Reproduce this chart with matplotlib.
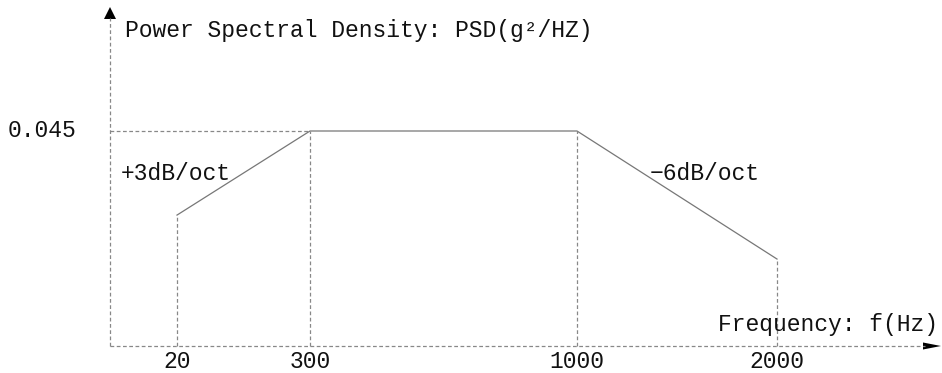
import matplotlib
matplotlib.use("Agg")
import matplotlib.pyplot as plt

# ---- data ----
freq_labels = ["20", "300", "1000", "2000"]
psd_values = [0.0274, 0.045, 0.045, 0.0182]
psd_level_label = "0.045"
slope_labels = ["+3dB/oct", "\u22126dB/oct"]
y_title = "Power Spectral Density: PSD(g\u00b2/HZ)"
x_title = "Frequency: f(Hz)"

# ---- layout (schematic, non-proportional frequency axis) ----
x_slots = [177, 310, 577, 777]
W, H = 942, 373
axis_x0, axis_y_px = 110, 346
px_per_unit = 215 / 0.045

def y_of(py):
    return (axis_y_px - py) / px_per_unit

fig = plt.figure(figsize=(W / 100, H / 100), dpi=100)
ax = fig.add_axes([0, 0, 1, 1])
ax.set_xlim(0, W)
ax.set_ylim(y_of(H), y_of(0))
ax.axis("off")

font = dict(family=["Liberation Mono", "DejaVu Sans Mono"], fontsize=16.6, color="#111111")
dash = dict(color="#888888", lw=0.9, ls=(0, (3, 2)))

# axes (dashed) with arrows
ax.plot([axis_x0, 925], [0, 0], **dash)
ax.plot([axis_x0, axis_x0], [0, y_of(18)], **dash)
ax.fill([923, 941, 923], [y_of(342.5), y_of(346), y_of(349.5)], color="black", lw=0)
ax.fill([104, 110, 116], [y_of(19), y_of(7), y_of(19)], color="black", lw=0)

# PSD curve
ax.plot(x_slots, psd_values, color="#777777", lw=0.9)

# guide lines
ax.plot([axis_x0, x_slots[1]], [psd_values[1], psd_values[1]], **dash)
for xs, v in zip(x_slots, psd_values):
    ax.plot([xs, xs], [0, v], **dash)

# tick labels
for xs, lab in zip(x_slots, freq_labels):
    ax.text(xs, y_of(361), lab, ha="center", va="center", **font)

ax.text(8, psd_values[1], psd_level_label, ha="left", va="center", **font)
ax.text(121, y_of(173), slope_labels[0], ha="left", va="center", **font)
ax.text(650, y_of(173), slope_labels[1], ha="left", va="center", **font)
ax.text(125, y_of(31), y_title, ha="left", va="center", **font)
ax.text(938, y_of(325), x_title, ha="right", va="center", **font)

fig.savefig("out.png", dpi=100)
